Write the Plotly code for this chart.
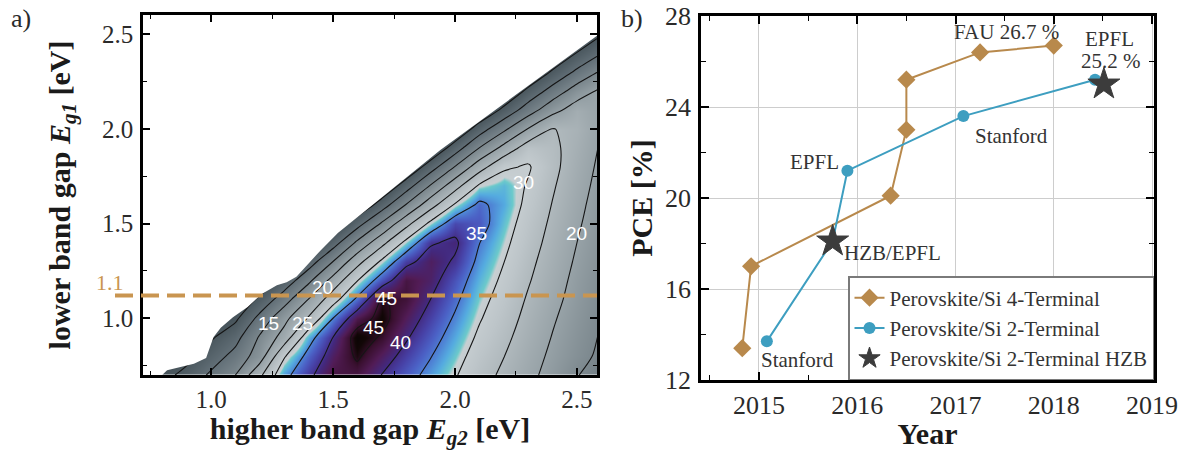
import plotly.graph_objects as go

# ---------------- panel a: efficiency map of a two-terminal tandem ----------------
EG2_GRID = [0.7, 0.8, 0.9, 1.0, 1.1, 1.2, 1.3, 1.4, 1.5, 1.6,
            1.7, 1.8, 1.9, 2.0, 2.1, 2.2, 2.3, 2.4, 2.5, 2.6]   # higher band gap (x)
EG1_GRID = [0.7, 0.8, 0.9, 1.0, 1.1, 1.2, 1.3, 1.4, 1.5, 1.6,
            1.7, 1.8, 1.9, 2.0, 2.1, 2.2, 2.3, 2.4, 2.5, 2.6]   # lower band gap (y)

# efficiency [%], one row per lower band gap
EFFICIENCY = [
    [0.0, 3.2, 6.6, 10.8, 15.0, 24.0, 33.5, 39.0, 43.5, 43.5, 39.9, 36.8, 33.6, 30.4, 26.9, 24.1, 21.2, 18.4, 15.2, 13.0],
    [0.0, 0.0, 3.3, 7.5, 11.6, 17.5, 29.5, 36.5, 42.0, 45.6, 42.0, 38.6, 35.2, 31.7, 28.0, 25.1, 22.0, 19.1, 16.5, 14.1],
    [0.0, 0.0, 0.0, 4.3, 8.3, 15.5, 22.0, 33.0, 40.0, 46.8, 44.6, 40.5, 36.8, 33.1, 29.2, 26.1, 22.9, 19.8, 17.1, 14.6],
    [0.0, 0.0, 0.0, 0.0, 4.0, 11.5, 18.5, 25.5, 35.0, 43.0, 46.3, 42.3, 38.4, 34.5, 30.4, 27.1, 23.7, 20.5, 17.7, 15.1],
    [0.0, 0.0, 0.0, 0.0, 0.0, 6.1, 12.8, 20.1, 27.8, 36.0, 45.3, 44.0, 40.0, 35.9, 31.5, 28.1, 24.5, 21.3, 18.3, 15.6],
    [0.0, 0.0, 0.0, 0.0, 0.0, 0.0, 6.6, 13.9, 21.7, 29.8, 37.5, 43.5, 41.6, 37.3, 32.7, 29.1, 25.4, 22.0, 18.8, 16.1],
    [0.0, 0.0, 0.0, 0.0, 0.0, 0.0, 0.0, 7.3, 15.0, 23.2, 30.8, 38.7, 42.0, 39.5, 33.9, 30.1, 26.2, 22.7, 19.4, 16.6],
    [0.0, 0.0, 0.0, 0.0, 0.0, 0.0, 0.0, 0.0, 7.7, 15.9, 23.4, 31.3, 39.5, 40.8, 35.1, 31.1, 27.1, 23.4, 20.0, 17.1],
    [0.0, 0.0, 0.0, 0.0, 0.0, 0.0, 0.0, 0.0, 0.0, 8.1, 15.6, 23.4, 31.2, 38.0, 37.0, 32.1, 27.9, 24.1, 20.6, 17.6],
    [0.0, 0.0, 0.0, 0.0, 0.0, 0.0, 0.0, 0.0, 0.0, 0.0, 7.5, 15.2, 22.9, 30.5, 36.0, 33.1, 28.8, 24.8, 21.2, 18.0],
    [0.0, 0.0, 0.0, 0.0, 0.0, 0.0, 0.0, 0.0, 0.0, 0.0, 0.0, 7.7, 15.4, 23.0, 30.7, 32.5, 29.6, 25.5, 21.8, 18.5],
    [0.0, 0.0, 0.0, 0.0, 0.0, 0.0, 0.0, 0.0, 0.0, 0.0, 0.0, 0.0, 7.7, 15.2, 22.8, 29.3, 30.5, 26.2, 22.4, 19.0],
    [0.0, 0.0, 0.0, 0.0, 0.0, 0.0, 0.0, 0.0, 0.0, 0.0, 0.0, 0.0, 0.0, 7.5, 15.1, 21.5, 27.5, 26.0, 23.0, 19.5],
    [0.0, 0.0, 0.0, 0.0, 0.0, 0.0, 0.0, 0.0, 0.0, 0.0, 0.0, 0.0, 0.0, 0.0, 7.6, 14.0, 20.3, 25.2, 23.6, 20.0],
    [0.0, 0.0, 0.0, 0.0, 0.0, 0.0, 0.0, 0.0, 0.0, 0.0, 0.0, 0.0, 0.0, 0.0, 0.0, 6.3, 12.6, 18.4, 22.5, 20.0],
    [0.0, 0.0, 0.0, 0.0, 0.0, 0.0, 0.0, 0.0, 0.0, 0.0, 0.0, 0.0, 0.0, 0.0, 0.0, 0.0, 6.3, 12.1, 17.4, 21.0],
    [0.0, 0.0, 0.0, 0.0, 0.0, 0.0, 0.0, 0.0, 0.0, 0.0, 0.0, 0.0, 0.0, 0.0, 0.0, 0.0, 0.0, 5.8, 11.1, 15.8],
    [0.0, 0.0, 0.0, 0.0, 0.0, 0.0, 0.0, 0.0, 0.0, 0.0, 0.0, 0.0, 0.0, 0.0, 0.0, 0.0, 0.0, 0.0, 5.3, 9.9],
    [0.0, 0.0, 0.0, 0.0, 0.0, 0.0, 0.0, 0.0, 0.0, 0.0, 0.0, 0.0, 0.0, 0.0, 0.0, 0.0, 0.0, 0.0, 0.0, 4.7],
    [0.0, 0.0, 0.0, 0.0, 0.0, 0.0, 0.0, 0.0, 0.0, 0.0, 0.0, 0.0, 0.0, 0.0, 0.0, 0.0, 0.0, 0.0, 0.0, 0.0],
]

# edge of the computed region (Eg1 must stay below Eg2)
BOUNDARY_EG2 = [0.80, 0.82, 0.93, 0.98, 1.01, 1.04, 1.09, 1.15, 1.21, 1.27,
                1.31, 1.35, 1.40, 1.45, 1.52, 1.94, 2.60]
BOUNDARY_EG1 = [0.70, 0.725, 0.76, 0.79, 0.90, 0.95, 1.005, 1.06, 1.13, 1.175,
                1.19, 1.22, 1.29, 1.36, 1.45, 1.89, 2.51]

CONTOUR_LEVELS = dict(start=5, end=45, size=5)
CONTOUR_LABELS = ["15", "25", "20", "45", "45", "40", "35", "30", "20"]
CONTOUR_LABEL_POS = [(1.234, 0.974), (1.373, 0.974), (1.455, 1.164), (1.721, 1.106),
                     (1.664, 0.952), (1.775, 0.873), (2.09, 1.45), (2.279, 1.72),
                     (2.50, 1.45)]

SI_GAP = 1.12
SI_GAP_LABEL = "1.1"
A_TICKS = [1.0, 1.5, 2.0, 2.5]

# ---------------- panel b: perovskite/Si tandem records ----------------
YEAR_4T = [2014.83, 2014.92, 2016.34, 2016.50, 2016.50, 2017.25, 2018.00]
PCE_4T = [13.4, 17.0, 20.1, 23.0, 25.2, 26.4, 26.7]
YEAR_2T = [2015.08, 2015.75, 2015.90, 2017.08, 2018.42]
PCE_2T = [13.7, 18.1, 21.2, 23.6, 25.2]
YEAR_HZB = [2015.75, 2018.51]
PCE_HZB = [18.1, 25.0]
B_XTICKS = [2015, 2016, 2017, 2018, 2019]
B_YTICKS = [12, 16, 20, 24, 28]

# ---------------- styling ----------------
W, H = 1185, 450
SERIF = "Liberation Serif"
TXT = "#2a2a2a"
TAN = "#b8894c"
TEAL = "#3d9ec0"
STAR = "#3c3c3c"
DASH_TAN = "#c99550"

A_XDOM = [143 / W, 597 / W]
A_YDOM = [1 - 375 / H, 1 - 15 / H]
A_XRNG = [0.7213, 2.582]
A_YRNG = [0.70, 2.603]
B_XDOM = [701 / W, 1154 / W]
B_YDOM = [1 - 380 / H, 1 - 16 / H]
B_XRNG = [2014.41, 2019.02]
B_YRNG = [12, 28]

ZMAX = 47.0
CS_STOPS = [
    (0.0, "#3d4950"), (5.0, "#4c5960"), (10.0, "#637078"), (15.0, "#7c888e"),
    (20.0, "#97a2a7"), (25.0, "#afb8bc"), (28.0, "#bdc5c9"), (31.0, "#c8cfd2"),
    (31.6, "#6ccacb"), (33.0, "#55ace0"), (34.5, "#4f87d6"), (36.5, "#4b60c5"),
    (38.5, "#4741a6"), (40.5, "#43297e"), (42.5, "#521c56"), (44.5, "#3a1030"),
    (46.0, "#120707"), (47.0, "#0a0404"),
]
colorscale = [[v / ZMAX, c] for v, c in CS_STOPS]

fig = go.Figure()

fig.add_trace(go.Contour(
    x=EG2_GRID, y=EG1_GRID, z=EFFICIENCY,
    zmin=0, zmax=ZMAX, colorscale=colorscale, showscale=False,
    autocontour=False,
    contours=dict(coloring="heatmap", showlines=True, **CONTOUR_LEVELS),
    line=dict(color="#151515", width=1.1, smoothing=0.8),
    hoverinfo="skip", xaxis="x", yaxis="y", showlegend=False,
))

# blank out the region above the computed edge
mask_x = [0.60, BOUNDARY_EG2[0] - 0.01] + BOUNDARY_EG2 + [2.75, 2.75, 0.60]
mask_y = [0.60, 0.60] + BOUNDARY_EG1 + [2.65, 2.85, 2.85]
fig.add_trace(go.Scatter(
    x=mask_x, y=mask_y, mode="lines", fill="toself", fillcolor="white",
    line=dict(width=0, color="white"), hoverinfo="skip", showlegend=False,
    xaxis="x", yaxis="y",
))

# panel b series
fig.add_trace(go.Scatter(
    x=YEAR_4T, y=PCE_4T, mode="lines+markers", name="Perovskite/Si 4-Terminal",
    line=dict(color=TAN, width=2), marker=dict(symbol="diamond", size=14, color=TAN),
    xaxis="x2", yaxis="y2",
))
fig.add_trace(go.Scatter(
    x=YEAR_2T, y=PCE_2T, mode="lines+markers", name="Perovskite/Si 2-Terminal",
    line=dict(color=TEAL, width=2), marker=dict(symbol="circle", size=12, color=TEAL),
    xaxis="x2", yaxis="y2",
))
fig.add_trace(go.Scatter(
    x=YEAR_HZB, y=PCE_HZB, mode="markers", name="Perovskite/Si 2-Terminal HZB",
    marker=dict(symbol="star", size=24, color=STAR, line=dict(color=STAR, width=1)),
    xaxis="x2", yaxis="y2",
))

tick_font_a = dict(family=SERIF, size=25, color=TXT)
tick_font_b = dict(family=SERIF, size=26, color=TXT)
title_font = dict(family=SERIF, size=30, color="#1a1a1a")

axis_common = dict(
    showline=True, linecolor="black", linewidth=2.5, mirror="allticks",
    ticks="inside", tickcolor="black", tickwidth=1.5, zeroline=False,
    automargin=False,
)

fig.update_layout(
    width=W, height=H, margin=dict(l=0, r=0, t=0, b=0),
    paper_bgcolor="white", plot_bgcolor="white",
    font=dict(family=SERIF, color=TXT),
    xaxis=dict(
        domain=A_XDOM, range=A_XRNG, anchor="y", tickvals=A_TICKS,
        ticktext=[f"{t:.1f}" for t in A_TICKS], ticklen=7, showgrid=False,
        minor=dict(dtick=0.25, tick0=0, ticks="inside", ticklen=4, tickcolor="black", tickwidth=1.2),
        tickfont=tick_font_a, ticklabelstandoff=0,
        title=dict(text="<b>higher band gap <i>E</i><sub><i>g2</i></sub> [eV]</b>",
                   font=title_font, standoff=2),
        **axis_common,
    ),
    yaxis=dict(
        domain=A_YDOM, range=A_YRNG, anchor="x", tickvals=A_TICKS,
        ticktext=[f"{t:.1f}" for t in A_TICKS], ticklen=7, showgrid=False,
        minor=dict(dtick=0.25, tick0=0, ticks="inside", ticklen=4, tickcolor="black", tickwidth=1.2),
        tickfont=tick_font_a, ticklabelstandoff=2,
        title=dict(text="<b>lower band gap <i>E</i><sub><i>g1</i></sub> [eV]</b>",
                   font=title_font, standoff=23),
        **axis_common,
    ),
    xaxis2=dict(
        domain=B_XDOM, range=B_XRNG, anchor="y2", tickvals=B_XTICKS, ticklen=8,
        showgrid=True, gridcolor="#cdcdcd", gridwidth=1,
        minor=dict(dtick=0.5, tick0=2014, ticks="inside", ticklen=5, tickcolor="black", tickwidth=1.2),
        tickfont=tick_font_b, ticklabelstandoff=0,
        title=dict(text="<b>Year</b>", font=title_font, standoff=4),
        **axis_common,
    ),
    yaxis2=dict(
        domain=B_YDOM, range=B_YRNG, anchor="x2", tickvals=B_YTICKS, ticklen=8,
        showgrid=True, gridcolor="#cdcdcd", gridwidth=1,
        minor=dict(dtick=2, tick0=12, ticks="inside", ticklen=5, tickcolor="black", tickwidth=1.2),
        tickfont=tick_font_b, ticklabelstandoff=2,
        title=dict(text="<b>PCE [%]</b>", font=title_font, standoff=4),
        **axis_common,
    ),
    legend=dict(
        x=B_XDOM[1], xanchor="right", y=B_YDOM[0], yanchor="bottom",
        bgcolor="white", bordercolor="#7a7a7a", borderwidth=1.5,
        font=dict(family=SERIF, size=21, color="#333333"),
        tracegroupgap=0, itemwidth=30,
    ),
)

# Si band gap: dashed line reaching out past the left axis
si_paper = A_YDOM[0] + (SI_GAP - A_YRNG[0]) / (A_YRNG[1] - A_YRNG[0]) * (A_YDOM[1] - A_YDOM[0])
fig.add_shape(type="line", xref="paper", yref="paper", x0=115 / W, x1=A_XDOM[1],
              y0=si_paper, y1=si_paper, line=dict(color=DASH_TAN, width=4, dash="18px,8px"))

ann = []
ann.append(dict(text=SI_GAP_LABEL, xref="paper", yref="paper", x=110 / W, y=si_paper,
                xanchor="center", yshift=13, showarrow=False,
                font=dict(family=SERIF, size=22, color=DASH_TAN)))

for txt, (cx, cy) in zip(CONTOUR_LABELS, CONTOUR_LABEL_POS):
    ann.append(dict(text=txt, x=cx, y=cy, xref="x", yref="y", showarrow=False,
                    font=dict(family="Liberation Sans", size=19, color="white")))

lab_font = dict(family=SERIF, size=21, color="#333333")
ann += [
    dict(text=f"FAU {PCE_4T[-1]} %", x=YEAR_4T[-1], y=PCE_4T[-1], xshift=-47, yshift=14),
    dict(text="EPFL", x=YEAR_2T[-1], y=PCE_2T[-1], xshift=14, yshift=41),
    dict(text=f"{PCE_2T[-1]} %", x=YEAR_2T[-1], y=PCE_2T[-1], xshift=16, yshift=19),
    dict(text="Stanford", x=YEAR_2T[3], y=PCE_2T[3], xshift=48, yshift=-20),
    dict(text="EPFL", x=YEAR_2T[2], y=PCE_2T[2], xanchor="right", xshift=-6, yshift=9),
    dict(text="HZB/EPFL", x=YEAR_HZB[0], y=PCE_HZB[0], xanchor="left", xshift=9, yshift=-12),
    dict(text="Stanford", x=YEAR_2T[0], y=PCE_2T[0], xshift=31, yshift=-19),
]
for a in ann[-7:]:
    a.update(xref="x2", yref="y2", showarrow=False, font=lab_font)

ann.append(dict(text="a)", xref="paper", yref="paper", x=21 / W, y=1 - 18 / H,
                xanchor="center", yanchor="middle", showarrow=False,
                font=dict(family=SERIF, size=26, color=TXT)))
ann.append(dict(text="b)", xref="paper", yref="paper", x=632 / W, y=1 - 18 / H,
                xanchor="center", yanchor="middle", showarrow=False,
                font=dict(family=SERIF, size=26, color=TXT)))

fig.update_layout(annotations=ann)

fig.write_html("out.html")
